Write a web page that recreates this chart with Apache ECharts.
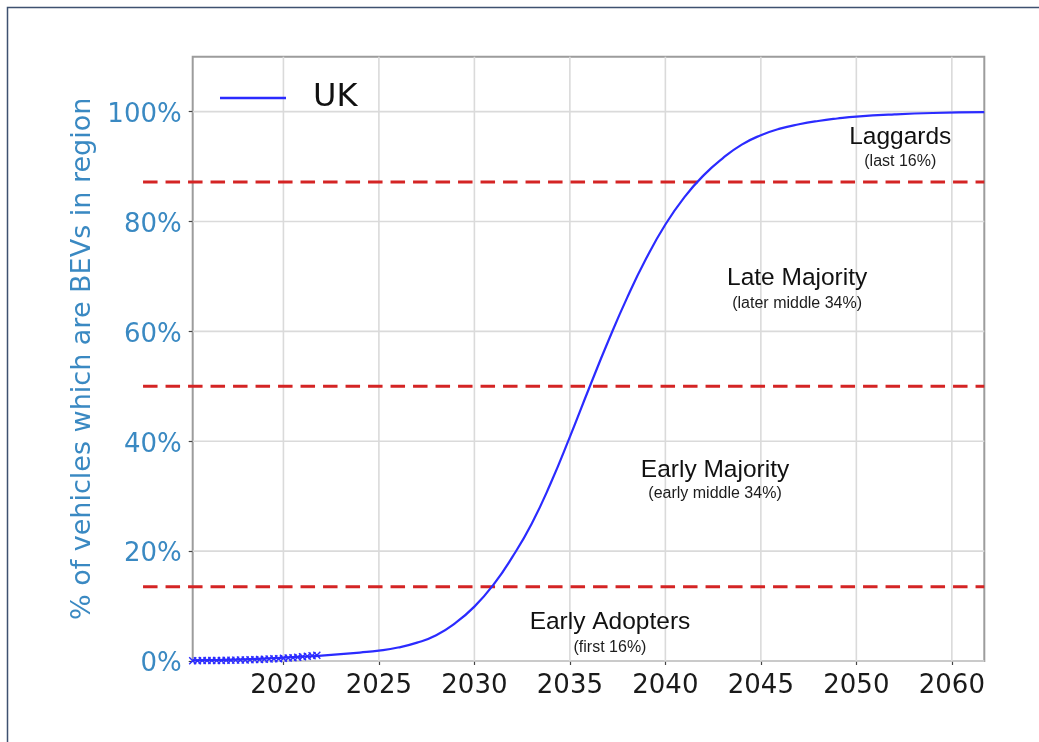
<!DOCTYPE html>
<html>
<head>
<meta charset="utf-8">
<script src="https://cdn.jsdelivr.net/npm/echarts@6/dist/echarts.min.js"></script>
<style>
  html, body { margin: 0; padding: 0; background: #ffffff; }
  #chart { width: 1039px; height: 742px; }
</style>
</head>
<body>
<div id="chart"></div>
<script>
// Share of UK vehicles that are battery-electric (BEV), observed quarterly to 2021
const histYears = [2015.25, 2015.5, 2015.75, 2016, 2016.25, 2016.5, 2016.75, 2017, 2017.25,
  2017.5, 2017.75, 2018, 2018.25, 2018.5, 2018.75, 2019, 2019.25, 2019.5, 2019.75, 2020,
  2020.25, 2020.5, 2020.75, 2021, 2021.25, 2021.5, 2021.75];
const histShare = [0.05, 0.06, 0.07, 0.08, 0.09, 0.10, 0.11, 0.12, 0.14,
  0.16, 0.18, 0.20, 0.22, 0.25, 0.28, 0.31, 0.35, 0.39, 0.43, 0.48,
  0.53, 0.60, 0.68, 0.76, 0.85, 0.95, 1.05];

// Projected S-curve of BEV adoption
const projYears = [2015.25, 2016, 2017, 2018, 2019, 2020, 2021, 2022, 2023, 2024, 2025, 2026,
  2027, 2028, 2029, 2030, 2031, 2032, 2033, 2034, 2035, 2036, 2037, 2038, 2039, 2040, 2041,
  2042, 2043, 2044, 2045, 2046, 2047, 2048, 2049, 2050, 2052, 2054, 2056.7];
const projShare = [0.10, 0.15, 0.22, 0.31, 0.43, 0.60, 0.79, 0.99, 1.24, 1.54, 1.89, 2.45,
  3.34, 4.7, 6.9, 9.9, 13.9, 19.0, 25.0, 32.4, 40.8, 49.6, 58.15, 66.15, 73.3, 79.45, 84.45,
  88.4, 91.5, 94.0, 95.7, 96.9, 97.7, 98.3, 98.75, 99.1, 99.5, 99.75, 99.9];

// Axis ticks
const xTickValues = [2020, 2025, 2030, 2035, 2040, 2045, 2050, 2055];
const xTickLabels = ['2020', '2025', '2030', '2035', '2040', '2045', '2050', '2060'];
const yTickValues = [0, 20, 40, 60, 80, 100];

// Adopter segment boundaries and their labels
const segmentLevels = [13.5, 50, 87.2];
const segmentTitles = ['Early Adopters', 'Early Majority', 'Late Majority', 'Laggards'];
const segmentNotes = ['(first 16%)', '(early middle 34%)', '(later middle 34%)', '(last 16%)'];
const segmentLabelYears = [2037.1, 2042.6, 2046.9, 2052.3];
const segmentTitleShare = [7.0, 34.8, 69.7, 95.4];
const segmentNoteShare = [2.4, 30.4, 65.1, 90.9];

const X_MIN = 2015.25, X_MAX = 2056.7, LINE_START = 2012.65;
const BLUE = '#2b2bff';
const AXIS_BLUE = '#3a89c2';

const chart = echarts.init(document.getElementById('chart'), null, { renderer: 'canvas' });

const option = {
  animation: false,
  backgroundColor: '#ffffff',
  graphic: [{
    type: 'rect', z: -10, silent: true,
    shape: { x: 7.5, y: 7.5, width: 1200, height: 900 },
    style: { fill: 'none', stroke: '#3e5170', lineWidth: 1.5 }
  }],
  grid: {
    left: 192.7, right: 54.7, top: 56.7, bottom: 81,
    show: true, borderColor: '#9c9c9c', borderWidth: 2, backgroundColor: 'transparent'
  },
  legend: {
    data: [{ name: 'UK', icon: 'rect', itemStyle: { color: BLUE } }],
    left: 215, top: 77,
    itemWidth: 66, itemHeight: 2.4,
    textStyle: {
      fontFamily: 'DejaVu Sans', fontSize: 32, color: '#111111',
      padding: [0, 0, 0, 22]
    }
  },
  xAxis: {
    type: 'value',
    min: X_MIN, max: X_MAX,
    splitNumber: 8,
    axisLine: { show: false },
    axisTick: {
      show: true, length: 4, customValues: xTickValues,
      lineStyle: { color: '#444444', width: 1.2 }
    },
    axisLabel: {
      customValues: xTickValues,
      margin: 12,
      fontFamily: 'DejaVu Sans', fontSize: 26, color: '#1a1a1a',
      formatter: v => {
        const i = xTickValues.indexOf(Math.round(v * 100) / 100);
        return i >= 0 ? xTickLabels[i] : '';
      }
    },
    splitLine: { show: false }
  },
  yAxis: {
    type: 'value',
    min: 0, max: 110,
    interval: 10,
    name: '% of vehicles which are BEVs in region',
    nameLocation: 'middle',
    nameGap: 85,
    nameTextStyle: { fontFamily: 'DejaVu Sans', fontSize: 27, color: AXIS_BLUE },
    axisLine: { show: false },
    axisTick: {
      show: true, length: 4, customValues: yTickValues,
      lineStyle: { color: '#444444', width: 1.2 }
    },
    axisLabel: {
      customValues: yTickValues,
      margin: 11,
      fontFamily: 'DejaVu Sans', fontSize: 26, color: AXIS_BLUE,
      formatter: v => (yTickValues.indexOf(v) >= 0 ? '{t|' + v + '%}' : ''),
      rich: {
        t: {
          fontFamily: 'DejaVu Sans', fontSize: 26, color: AXIS_BLUE,
          padding: [7, 0, 0, 0]
        }
      }
    },
    splitLine: { show: false }
  },
  series: [
    {
      // grid lines at the labelled ticks
      type: 'custom',
      name: 'grid',
      silent: true,
      z: 1,
      data: xTickValues.map(v => [v, 0]).concat(yTickValues.map(v => [X_MIN, v])),
      encode: { x: 0, y: 1 },
      renderItem: (params, api) => {
        let p1, p2;
        if (params.dataIndex < xTickValues.length) {
          const xv = api.value(0);
          p1 = api.coord([xv, 0]); p2 = api.coord([xv, 110]);
        } else {
          const yv = api.value(1);
          p1 = api.coord([X_MIN, yv]); p2 = api.coord([X_MAX, yv]);
        }
        return {
          type: 'line',
          shape: { x1: p1[0], y1: p1[1], x2: p2[0], y2: p2[1] },
          style: { stroke: '#dadada', lineWidth: 1.6 }
        };
      }
    },
    {
      // dashed boundaries between adopter segments
      type: 'custom',
      name: 'segments',
      silent: true,
      clip: false,
      z: 2,
      data: segmentLevels.map(v => [LINE_START, v]),
      encode: { x: 0, y: 1 },
      renderItem: (params, api) => {
        const p1 = api.coord([api.value(0), api.value(1)]);
        const p2 = api.coord([X_MAX, api.value(1)]);
        return {
          type: 'line',
          shape: { x1: p1[0], y1: p1[1], x2: p2[0], y2: p2[1] },
          style: { stroke: '#d42424', lineWidth: 3, lineDash: [14.5, 8] }
        };
      }
    },
    {
      type: 'line',
      name: 'UK',
      z: 3,
      data: projYears.map((y, i) => [y, projShare[i]]),
      showSymbol: false,
      symbol: 'none',
      smooth: 0.5,
      lineStyle: { color: BLUE, width: 2.2 },
      itemStyle: { color: BLUE }
    },
    {
      type: 'scatter',
      name: 'UK history',
      z: 4,
      data: histYears.map((y, i) => [y, histShare[i]]),
      symbol: 'path://M0,0L10,10M10,0L0,10',
      symbolSize: 7,
      itemStyle: { color: 'transparent', borderColor: BLUE, borderWidth: 1.4, opacity: 1 }
    },
    {
      type: 'scatter',
      name: 'segment titles',
      silent: true,
      z: 5,
      symbolSize: 1,
      itemStyle: { color: 'transparent', opacity: 1 },
      data: segmentTitles.map((t, i) => ({ name: t, value: [segmentLabelYears[i], segmentTitleShare[i]] })),
      label: {
        show: true, position: 'inside', formatter: '{b}',
        fontFamily: 'Liberation Sans', fontSize: 24.5, color: '#111111'
      }
    },
    {
      type: 'scatter',
      name: 'segment notes',
      silent: true,
      z: 5,
      symbolSize: 1,
      itemStyle: { color: 'transparent', opacity: 1 },
      data: segmentNotes.map((t, i) => ({ name: t, value: [segmentLabelYears[i], segmentNoteShare[i]] })),
      label: {
        show: true, position: 'inside', formatter: '{b}',
        fontFamily: 'Liberation Sans', fontSize: 16, color: '#1c1c1c'
      }
    }
  ]
};

chart.setOption(option);
</script>
</body>
</html>
